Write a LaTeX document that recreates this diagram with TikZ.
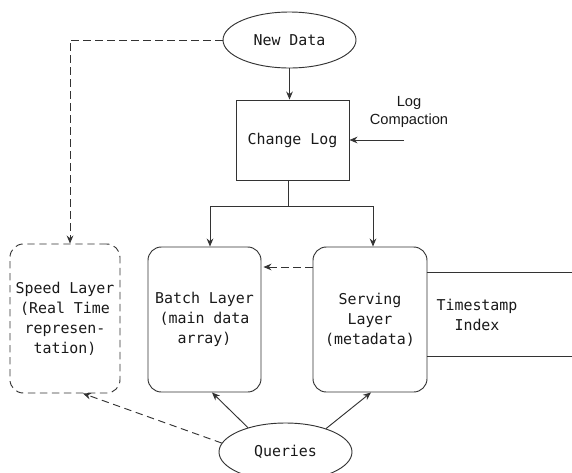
\documentclass[tikz,border=0pt]{standalone}
\usepackage{fontspec}
\setmonofont{DejaVu Sans Mono}
\setsansfont{Liberation Sans}
\usetikzlibrary{arrows.meta,shapes.geometric}
\begin{document}
\begin{tikzpicture}[x=0.75pt,y=-0.75pt,
  ln/.style={draw=black!80,line width=0.7pt},
  arr/.style={ln,-{Stealth[length=6pt,width=5pt]}},
  dsh/.style={dash pattern=on 5.5pt off 3.5pt},
  mono/.style={font=\ttfamily\fontsize{11.2}{15}\selectfont,align=center,text=black!90},
  oval/.style={ellipse,ln,mono,inner sep=0pt},
  layer/.style={rectangle,ln,rounded corners=10pt,mono,inner sep=0pt},
  sq/.style={rectangle,ln,mono,inner sep=0pt}]
\useasboundingbox (0,0) rectangle (572,472);
\begin{scope}
\clip (0,0) rectangle (572,472);
\node[oval,minimum width=133*0.75pt,minimum height=56*0.75pt] (newdata) at (289.5,40) {New Data};
\node[sq,minimum width=113*0.75pt,minimum height=80*0.75pt] (changelog) at (292.5,140) {Change Log};
\node[font=\sffamily\fontsize{11}{13.5}\selectfont,align=center,text=black!90] (lc) at (409,112) {Log\\Compaction};
\coordinate (lcs) at (404,140);
\node[layer,dsh,minimum width=110*0.75pt,minimum height=149*0.75pt] (speed) at (65,318.5) {Speed Layer\\(Real Time\\represen-\\tation)};
\node[layer,minimum width=113*0.75pt,minimum height=145*0.75pt] (batch) at (204.5,319.5) {Batch Layer\\(main data\\array)};
\node[layer,minimum width=114*0.75pt,minimum height=145*0.75pt] (serving) at (370,319.5) {Serving\\Layer\\(metadata)};
\node[mono,minimum width=100*0.75pt,minimum height=83*0.75pt,inner sep=0pt] (ts) at (477,314.5) {Timestamp\\Index};
\node[oval,minimum width=133*0.75pt,minimum height=58*0.75pt] (queries) at (285.5,452) {Queries};
\coordinate (split) at (288,206);
\coordinate (nd) at (70,40);

\draw[arr,dsh] (newdata.west) -- (nd) -- (nd |- speed.north);
\draw[arr] (newdata.south) -- (newdata.south |- changelog.north);
\draw[arr] (lcs) -- (changelog.east |- lcs);
\draw[ln] (changelog.south -| split) -- (split);
\draw[arr] (split) -| ([xshift=5.5*0.75pt]batch.north);
\draw[arr] (split) -| ([xshift=3*0.75pt]serving.north);
\draw[arr,dsh] (serving.west |- 0,267) -- ([xshift=2*0.75pt]batch.east |- 0,267);
\draw[ln] (ts.north west) -- ++(145,0);
\draw[ln] (ts.south west) -- ++(145,0);
\draw[arr] (queries.147) -- ([xshift=7.5*0.75pt]batch.south);
\draw[arr] (queries.30) -- ([xshift=1*0.75pt]serving.south);
\draw[arr,dsh] (queries.172) -- ([xshift=18*0.75pt]speed.south);
\end{scope}
\end{tikzpicture}
\end{document}
